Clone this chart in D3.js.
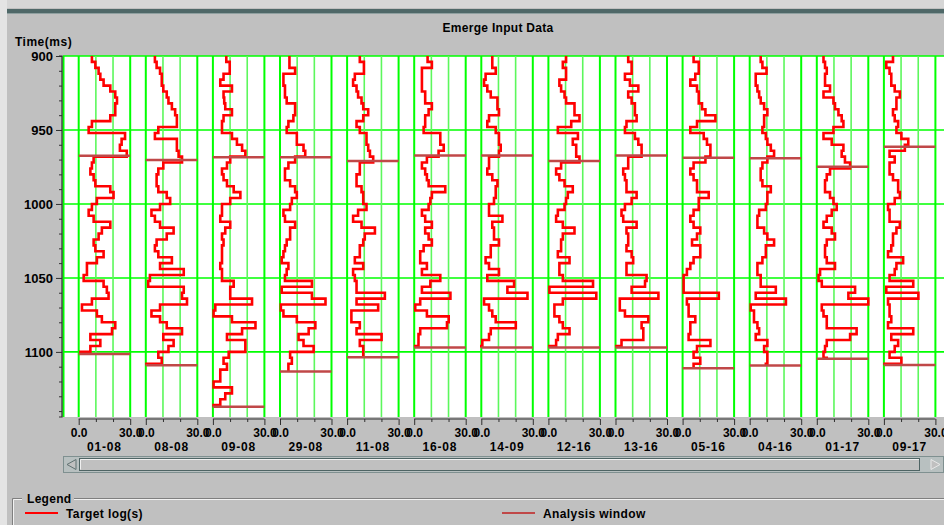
<!DOCTYPE html>
<html>
<head>
<meta charset="utf-8">
<script src="https://cdn.jsdelivr.net/npm/d3@7"></script>
<style>
  html, body { margin: 0; padding: 0; background: #c0c0c0; }
  svg { display: block; font-family: "Liberation Sans", Arial, sans-serif; font-weight: bold; }
</style>
</head>
<body>
<div id="chart"></div>
<script>
var svgWidth = 944;
var svgHeight = 525;

// wells shown, left to right
var wellNames = ["01-08", "08-08", "09-08", "29-08", "11-08", "16-08", "14-09",
                 "12-16", "13-16", "05-16", "04-16", "01-17", "09-17"];

// analysis window (ms) for each well
var windowTop = [967.4, 970.3, 968.5, 968.5, 970.9, 967.3, 967.3, 970.9, 967.3, 968.7, 969.1, 974.8, 961.3];
var windowBottom = [1101.4, 1109, 1137, 1113.3, 1103.6, 1097, 1097, 1097, 1097, 1111, 1109.2, 1104.7, 1108.8];

// log samples, every 4 ms starting at 900 ms
var startTime = 900;
var sampleRate = 4;

var log01_08 = [7.7, 9.7, 11.6, 12.6, 14.5, 18.4, 21.3, 22.3, 21.3, 21.3, 18.4, 7.7, 5.8, 27, 25, 24, 28,
  8.7, 7.7, 6.8, 8.7, 9.7, 18.4, 20.3, 10.6, 7.7, 5.8, 8.7, 18.4, 13.5, 11.6, 8.7, 9.7, 14.5, 10.6,
  4.8, 4.8, 2.9, 14.5, 16.4, 17.4, 7.7, 1.9, 10.6, 13.5, 21.3, 19.4, 6.8, 12.6, 6.8, 1.0];
var log08_08 = [5.3, 6.3, 8.3, 9.3, 9.3, 10.2, 12.2, 13.2, 15.2, 17.1, 18.1, 18.1, 7.3, 5.3, 18.1, 18.1,
  19.1, 21.1, 10.2, 7.3, 6.3, 6.3, 7.3, 12.2, 14.2, 8.3, 3.3, 5.3, 8.3, 16.2, 12.2, 6.3, 5.3, 7.3, 15.2,
  8.3, 22.1, 2.4, 1.4, 22.1, 21.1, 24, 8.3, 3.3, 8.3, 12.2, 21.1, 10.2, 16.2, 13.2, 7.3, 9.3, 0.4];
var log09_08 = [7.8, 9.8, 9.8, 6.2, 4.3, 11.1, 6.2, 6.6, 7.2, 11.1, 6.2, 5.3, 5.3, 11.1, 14, 17, 18.9,
  10.1, 8.2, 5.3, 6.2, 8.2, 12.1, 16, 10.1, 5.3, 5.3, 4.3, 10.1, 7.2, 5.3, 6.2, 5.3, 5.3, 5.3, 4.3, 5.3,
  5.3, 12.1, 10.1, 10.1, 22.8, 1.4, 0.4, 11.1, 24.8, 17, 8.2, 18.9, 18.9, 9.2, 6.2, 8.2, 4.3, 4.3, 0.4,
  11.1, 7.2, 4.3, 0.4];
var log29_08 = [5.5, 5.5, 8.8, 2.0, 2.0, 2.9, 2.9, 3.9, 8.8, 8.8, 7.8, 4.9, 3.9, 9.8, 9.8, 13.7, 14.7,
  8.8, 4.9, 2.9, 2.9, 5.9, 8.8, 9.8, 6.9, 5.9, 2.0, 2.9, 8.8, 5.9, 5.9, 3.9, 2.9, 2.0, 1.0, 4.9, 3.9,
  2.9, 18.6, 1.0, 18.6, 26.5, 0.5, 2.0, 9.8, 20.6, 16.7, 10.8, 13.7, 19.6, 5.9, 6.9, 4.9, 4.9];
var log11_08 = [7.4, 9.8, 9.8, 4.5, 3.5, 5.5, 6.4, 8.4, 9.4, 12.3, 9.4, 5.5, 7.4, 11.3, 11.3, 12.3, 13.3,
  15.2, 7.4, 7.4, 5.5, 5.5, 8.4, 9.4, 9.4, 11.3, 6.4, 3.5, 8.4, 16.2, 10.3, 9.4, 7.4, 7.4, 4.5, 9.4,
  3.5, 4.5, 5.5, 5.5, 22.0, 5.5, 18.1, 2.5, 2.5, 7.4, 5.5, 20.1, 7.4, 9.4, 9.4, 0.6];
var log16_08 = [7.8, 10.3, 4.5, 4.5, 4.5, 4.5, 6.4, 6.4, 10.3, 8.4, 6.4, 6.4, 5.5, 15.2, 15.2, 17.2, 14.2,
  7.4, 4.5, 6.4, 7.4, 8.4, 18.1, 10.3, 9.4, 8.4, 4.5, 6.4, 10.3, 6.4, 8.4, 10.3, 5.5, 3.5, 3.5, 7.4,
  4.5, 15.2, 9.4, 4.5, 21.1, 3.5, 0.6, 7.4, 20.1, 19.1, 3.5, 2.5, 2.5, 0.6];
var log14_09 = [6.4, 6.4, 8.4, 2.5, 1.6, 3.5, 5.5, 9.4, 9.4, 10.3, 4.5, 3.5, 8.4, 10.3, 10.3, 11.3, 10.3,
  4.5, 4.5, 3.5, 6.4, 9.4, 8.4, 8.4, 7.4, 4.5, 4.5, 12.3, 6.4, 7.4, 7.4, 10.3, 5.5, 5.5, 2.5, 4.5,
  10.3, 3.5, 19.1, 15.2, 26.9, 1.6, 4.5, 6.4, 8.4, 20.1, 5.5, 4.5, 0.6, 0];
var log12_16 = [10.3, 8.4, 10.3, 10.3, 6.4, 7.4, 9.4, 10.3, 15.2, 15.2, 18.1, 13.3, 5.5, 17.2, 14.2, 16.2,
  16.2, 18.1, 7.4, 4.5, 6.4, 9.4, 14.2, 11.3, 10.3, 9.4, 5.5, 4.5, 8.4, 15.2, 8.4, 7.4, 7.4, 5.5, 12.3,
  6.4, 6.4, 8.4, 26, 0.6, 27.9, 8.4, 3.5, 3.5, 6.4, 8.4, 12.3, 5.5, 4.5, 0.6];
var log13_16 = [7.4, 9.4, 9.4, 5.5, 8.4, 13.3, 7.4, 9.4, 11.3, 11.3, 12.3, 6.4, 5.5, 11.3, 13.3, 15.2,
  15.2, 7.4, 7.4, 4.5, 5.5, 6.4, 6.4, 12.3, 9.4, 5.5, 3.5, 4.5, 12.3, 6.4, 7.4, 7.4, 6.4, 9.4, 10.3,
  6.4, 6.4, 18.1, 17.2, 9.4, 25, 2.5, 2.5, 5.5, 19.1, 15.2, 16.2, 16.2, 3.5, 0.6];
var log05_16 = [6.4, 9.4, 9.4, 7.4, 4.5, 8.4, 9.4, 9.4, 11.3, 13.3, 19.1, 8.4, 4.5, 12.3, 14.2, 16.2,
  16.2, 13.3, 6.4, 4.5, 6.4, 8.4, 8.4, 15.2, 9.4, 9.4, 6.4, 4.5, 6.4, 10.3, 8.4, 5.5, 10.3, 10.3, 6.4,
  4.5, 2.5, 0.6, 0.6, 0.6, 21.1, 2.5, 3.5, 3.5, 7.4, 4.5, 4.5, 3.5, 16.2, 8.4, 6.4, 10.3, 6.4, 1.6];
var log04_16 = [6.4, 7.4, 9.8, 3.5, 3.5, 4.5, 5.5, 6.4, 8.4, 10.3, 8.4, 8.4, 7.4, 9.4, 10.3, 12.3, 14.2,
  10.3, 7.4, 6.4, 6.4, 7.4, 12.3, 10.3, 10.3, 9.4, 5.5, 4.5, 4.5, 8.4, 10.3, 14.2, 9.4, 9.4, 7.4, 4.5,
  4.5, 6.4, 6.4, 15.2, 3.5, 21.1, 0.6, 2.5, 2.5, 4.5, 5.5, 3.5, 10.3, 8.4, 10.3, 10.3, 9.4];
var log01_17 = [3.9, 4.8, 5.8, 4.8, 4.8, 7.7, 3.9, 9.7, 10.6, 12.6, 14.5, 15.5, 9.7, 3.9, 8.7, 15.5, 14.5,
  16.4, 19.4, 7.7, 5.8, 4.8, 4.8, 7.7, 9.7, 11.6, 8.7, 5.8, 3.9, 8.7, 10.6, 5.8, 4.8, 4.8, 5.8, 10.6,
  1.9, 1.0, 2.9, 22.3, 18.4, 30, 2.9, 3.9, 5.8, 5.8, 23.2, 19.4, 5.8, 4.8, 3.9, 5.8];
var log09_17 = [5.3, 1.4, 3.3, 4.3, 4.3, 6.3, 9.3, 7.3, 7.3, 5.3, 6.3, 8.3, 7.3, 10.2, 14.2, 12.2, 3.3,
  6.3, 3.3, 3.3, 5.3, 8.3, 8.3, 9.3, 6.3, 2.4, 3.3, 3.3, 9.3, 7.3, 5.3, 5.3, 4.3, 2.4, 11.2, 7.3, 6.3,
  3.3, 17.1, 1.4, 20.1, 2.4, 3.3, 3.3, 4.3, 2.4, 17.1, 4.3, 8.3, 6.3, 3.3, 10.2, 0.4];

var logs = [log01_08, log08_08, log09_08, log29_08, log11_08, log16_08, log14_09,
            log12_16, log13_16, log05_16, log04_16, log01_17, log09_17];

var timeTicks = d3.range(900, 1141, 10);
var timeLabels = [900, 950, 1000, 1050, 1100];
var valueTicks = [0, 10, 20, 30];

var plot = { left: 63, right: 944, top: 56, bottom: 417 };

var svg = d3.select("#chart").append("svg")
  .attr("width", svgWidth)
  .attr("height", svgHeight);

// window frame bits
svg.append("rect").attr("x", 0).attr("y", 0).attr("width", svgWidth).attr("height", svgHeight).attr("fill", "#c0c0c0");
svg.append("rect").attr("x", 0).attr("y", 0).attr("width", svgWidth).attr("height", 8).attr("fill", "#d6d6d6");
svg.append("rect").attr("x", 0).attr("y", 0).attr("width", 7).attr("height", svgHeight).attr("fill", "#e4e4e4");
svg.append("rect").attr("x", 7).attr("y", 9).attr("width", svgWidth - 7).attr("height", 4).attr("fill", "#4f6868");
svg.append("line").attr("x1", 7).attr("x2", svgWidth).attr("y1", 13.5).attr("y2", 13.5).attr("stroke", "#8fa0a0");

svg.append("text")
  .attr("x", 498).attr("y", 32)
  .attr("text-anchor", "middle")
  .attr("font-size", "12px")
  .attr("letter-spacing", "0.3px")
  .attr("fill", "#000")
  .text("Emerge Input Data");

var yScale = d3.scaleLinear()
  .domain([900, 1144])
  .range([plot.top, plot.bottom]);

var trackScale = d3.scaleBand()
  .domain(wellNames)
  .range([78.7, 935.4])
  .paddingInner(0.2325)
  .paddingOuter(0);

// white plot area
svg.append("rect")
  .attr("x", plot.left).attr("y", plot.top)
  .attr("width", plot.right - plot.left).attr("height", plot.bottom - plot.top)
  .attr("fill", "#fff");

var grid = svg.append("g");

grid.selectAll(".hgrid")
  .data(timeLabels)
  .enter()
  .append("line")
  .attr("x1", plot.left).attr("x2", plot.right)
  .attr("y1", d => yScale(d)).attr("y2", d => yScale(d))
  .attr("stroke", "#00ff00")
  .attr("stroke-width", 1.6);

grid.append("line")
  .attr("x1", plot.left + 0.5).attr("x2", plot.left + 0.5)
  .attr("y1", plot.top).attr("y2", plot.bottom)
  .attr("stroke", "#00ff00").attr("stroke-width", 2);

// y axis
var yAxis = d3.axisLeft(yScale)
  .tickValues(timeTicks)
  .tickSize(3)
  .tickFormat(d => timeLabels.indexOf(d) >= 0 ? d : "");

var yAxisG = svg.append("g")
  .attr("transform", `translate(${plot.left - 1}, 0)`)
  .call(yAxis);
yAxisG.select(".domain").attr("stroke", "#303030").attr("stroke-width", 1.2)
  .attr("d", `M-3,${plot.top}H0V${plot.bottom}H-3`);
yAxisG.selectAll(".tick line").attr("stroke", "#303030")
  .attr("x2", d => timeLabels.indexOf(d) >= 0 ? -6 : -3);
yAxisG.selectAll(".tick text")
  .attr("x", -9)
  .attr("dy", "0.36em")
  .attr("font-size", "13px")
  .attr("font-family", "Liberation Sans, Arial, sans-serif")
  .attr("font-weight", "bold")
  .attr("fill", "#000");

svg.append("text")
  .attr("x", 15).attr("y", 46)
  .attr("font-size", "12px")
  .attr("letter-spacing", "0.5px")
  .text("Time(ms)");

var logLine = d3.line()
  .x(d => d.x)
  .y(d => yScale(d.t))
  .curve(d3.curveStepBefore);

wellNames.forEach(function(name, i) {
  var x0 = trackScale(name);
  var xScale = d3.scaleLinear().domain([0, 30]).range([x0, x0 + trackScale.bandwidth()]);
  var track = svg.append("g").attr("class", "track");

  track.selectAll(".vgrid")
    .data(valueTicks)
    .enter()
    .append("line")
    .attr("x1", d => xScale(d)).attr("x2", d => xScale(d))
    .attr("y1", plot.top).attr("y2", plot.bottom)
    .attr("stroke", d => (d === 0 || d === 30) ? "#00ff00" : "#5cf75c")
    .attr("stroke-width", d => (d === 0 || d === 30) ? 2 : 1.6);

  // bottom axis of the track
  var xAxis = d3.axisBottom(xScale)
    .tickValues(valueTicks)
    .tickSize(3)
    .tickFormat(d => (d === 0 || d === 30) ? d3.format(".1f")(d) : "");
  var xAxisG = track.append("g")
    .attr("transform", `translate(0, ${plot.bottom + 2})`)
    .call(xAxis);
  xAxisG.select(".domain").attr("stroke", "#303030").attr("stroke-width", 1.2)
    .attr("d", `M${xScale(0)},0H${xScale(30)}`);
  xAxisG.selectAll(".tick line").attr("stroke", "#303030")
    .attr("y2", d => (d === 0 || d === 30) ? 6 : 3);
  xAxisG.selectAll(".tick text")
    .attr("y", 9)
    .attr("font-size", "12px")
    .attr("font-family", "Liberation Sans, Arial, sans-serif")
    .attr("font-weight", "bold")
    .attr("fill", "#000");

  track.append("text")
    .attr("x", x0 + trackScale.bandwidth() / 2)
    .attr("y", 451)
    .attr("text-anchor", "middle")
    .attr("font-size", "12px")
    .attr("letter-spacing", "0.8px")
    .text(name);

  // log curve, held over each sample up to the bottom of the window
  var pts = [];
  logs[i].forEach(function(v, k) {
    var t = startTime + k * sampleRate;
    if (t < windowBottom[i]) pts.push({ x: xScale(v), t: t });
  });
  pts.push({ x: pts[pts.length - 1].x, t: windowBottom[i] });

  track.append("path")
    .datum(pts)
    .attr("d", logLine)
    .attr("fill", "none")
    .attr("stroke", "#ff0000")
    .attr("stroke-width", 2.6)
    .attr("stroke-linejoin", "miter");

  [windowTop[i], windowBottom[i]].forEach(function(t) {
    track.append("line")
      .attr("x1", xScale(0)).attr("x2", xScale(30))
      .attr("y1", yScale(t)).attr("y2", yScale(t))
      .attr("stroke", "#c04848")
      .attr("stroke-width", 2.5);
  });
});

// scrollbar
var sb = svg.append("g");
sb.append("rect").attr("x", 63.5).attr("y", 456.5).attr("width", 880).attr("height", 16)
  .attr("fill", "#b8c0c0").attr("stroke", "#7f9090");
sb.append("rect").attr("x", 79.5).attr("y", 458.5).attr("width", 840).attr("height", 12)
  .attr("fill", "#c0c0c0").attr("stroke", "#4f6464");
sb.append("path").attr("d", "M80.5,469.5V459.5H919").attr("fill", "none").attr("stroke", "#f0f0f0");
sb.append("path").attr("d", "M76,459.5L67,464.5L76,469.5Z").attr("fill", "#c0c0c0").attr("stroke", "#5f7070");
sb.append("path").attr("d", "M931,459.5L940,464.5L931,469.5Z").attr("fill", "#c0c0c0").attr("stroke", "#e8e8e8");

// legend
var lg = svg.append("g");
lg.append("path").attr("d", "M12.5,525V498.5H22M74,498.5H944").attr("fill", "none").attr("stroke", "#7f7f7f");
lg.append("path").attr("d", "M13.5,525V499.5H22M74,499.5H944").attr("fill", "none").attr("stroke", "#f2f2f2");
lg.append("text").attr("x", 27).attr("y", 503).attr("font-size", "12px").attr("letter-spacing", "0.3px").text("Legend");

var legendItems = [
  { label: "Target log(s)", color: "#ff0000", x: 25 },
  { label: "Analysis window", color: "#c04848", x: 502 }
];
legendItems.forEach(function(item) {
  lg.append("line")
    .attr("x1", item.x).attr("x2", item.x + 33)
    .attr("y1", 513).attr("y2", 513)
    .attr("stroke", item.color).attr("stroke-width", 2);
  lg.append("text")
    .attr("x", item.x + 41).attr("y", 518)
    .attr("font-size", "12px")
    .attr("letter-spacing", "0.4px")
    .text(item.label);
});
</script>
</body>
</html>
